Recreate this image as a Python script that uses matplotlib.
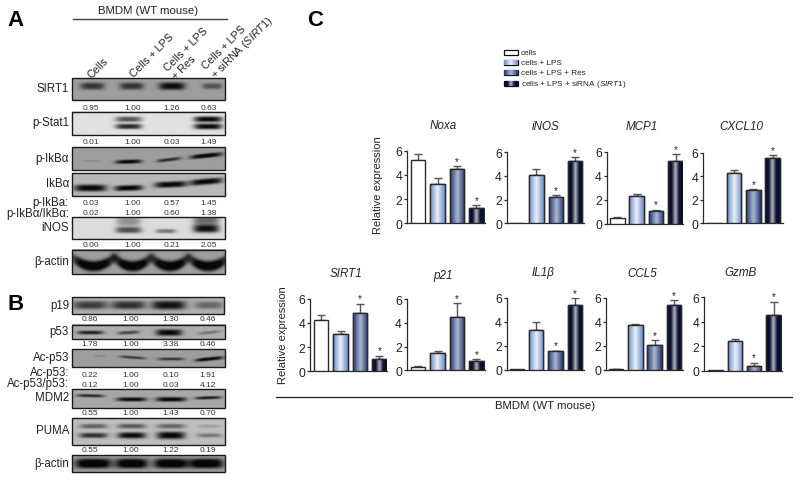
import numpy as np
import matplotlib
matplotlib.use("Agg")
import matplotlib.pyplot as plt
from matplotlib.patches import Rectangle
from matplotlib.colors import LinearSegmentedColormap

plt.rcParams['font.family'] = ['Liberation Sans', 'DejaVu Sans']
plt.rcParams['mathtext.fontset'] = 'custom'
plt.rcParams['mathtext.rm'] = 'Liberation Sans'
plt.rcParams['mathtext.it'] = 'Liberation Sans:italic'
plt.rcParams['mathtext.bf'] = 'Liberation Sans:bold'

# ---- data -------------------------------------------------------------
series_names = ['cells', 'cells + LPS', 'cells + LPS + Res',
                r'cells + LPS + siRNA ($\mathit{SIRT1}$)']
noxa = [5.2, 3.2, 4.5, 1.3];       noxa_err = [0.55, 0.5, 0.2, 0.2]
inos = [0.03, 4.05, 2.25, 5.3];    inos_err = [0.0, 0.5, 0.1, 0.3]
mcp1 = [0.5, 2.3, 1.05, 5.2];      mcp1_err = [0.07, 0.15, 0.15, 0.6]
cxcl10 = [0.05, 4.3, 2.8, 5.6];    cxcl10_err = [0.0, 0.25, 0.12, 0.2]
sirt1 = [4.2, 3.1, 4.85, 1.0];     sirt1_err = [0.45, 0.25, 0.75, 0.3]
p21 = [0.3, 1.5, 4.5, 0.75];       p21_err = [0.03, 0.12, 1.15, 0.2]
il1b = [0.03, 3.3, 1.55, 5.45];    il1b_err = [0.0, 0.65, 0.05, 0.55]
ccl5 = [0.07, 3.75, 2.1, 5.45];    ccl5_err = [0.02, 0.1, 0.35, 0.35]
gzmb = [0.03, 2.45, 0.35, 4.55];   gzmb_err = [0.0, 0.15, 0.3, 1.1]
star_bars = [2, 3]
yticks = [0, 2, 4, 6]

density_sirt1 = ['0.95', '1.00', '1.26', '0.63']
density_pstat1 = ['0.01', '1.00', '0.03', '1.49']
density_pikb = ['0.03', '1.00', '0.57', '1.45']
density_ratio_ikb = ['0.02', '1.00', '0.60', '1.38']
density_inos = ['0.00', '1.00', '0.21', '2.05']
density_p19 = ['0.86', '1.00', '1.30', '0.46']
density_p53 = ['1.78', '1.00', '3.38', '0.46']
density_acp53 = ['0.22', '1.00', '0.10', '1.91']
density_ratio_p53 = ['0.12', '1.00', '0.03', '4.12']
density_mdm2 = ['0.55', '1.00', '1.43', '0.70']
density_puma = ['0.55', '1.00', '1.22', '0.19']

# ---- layout -----------------------------------------------------------
W, H = 800, 481
fig = plt.figure(figsize=(W / 100, H / 100), dpi=100, facecolor='white')
over = fig.add_axes([0, 0, 1, 1])
over.set_xlim(0, W); over.set_ylim(H, 0); over.axis('off')

TXT = '#222222'
EDGE = '#2a2a2a'
cmaps = [None,
         LinearSegmentedColormap.from_list('a', ['#6d8cc4', '#e8f0fb', '#6d8cc4']),
         LinearSegmentedColormap.from_list('b', ['#26376a', '#a9b8d6', '#26376a']),
         LinearSegmentedColormap.from_list('c', ['#070b28', '#0d1233', '#b4b6bf', '#0d1233', '#070b28'])]
grad = np.linspace(0, 1, 64).reshape(1, -1)


def fill_bar(ax, x0, x1, y0, y1, i):
    r = Rectangle((x0, y0), x1 - x0, y1 - y0, fc='white', ec=EDGE, lw=1.0, zorder=3)
    ax.add_patch(r)
    if cmaps[i] is not None:
        im = ax.imshow(grad, extent=(x0, x1, y0, y1), aspect='auto', cmap=cmaps[i], zorder=3.1)
        im.set_clip_path(r)
        ax.add_patch(Rectangle((x0, y0), x1 - x0, y1 - y0, fc='none', ec=EDGE, lw=1.0, zorder=3.2))


PITCH, BW = 19.4, 14.5


def panel(title, vals, errs, L, y6, y0, first, right, tx, ty):
    ax = fig.add_axes([L / W, 1 - y0 / H, (right - L) / W, (y0 - y6) / H])
    ax.patch.set_alpha(0)
    for i, (v, e) in enumerate(zip(vals, errs)):
        fill_bar(ax, i - BW / PITCH / 2, i + BW / PITCH / 2, 0, v, i)
        if e > 0:
            ax.errorbar(i, v, yerr=[[0], [e]], color='#555555', lw=1, capsize=2.6,
                        capthick=1, zorder=2)
        if i in star_bars:
            ax.text(i, v + e + 0.2, '*', ha='center', va='baseline', fontsize=7,
                    color=TXT, zorder=5, clip_on=False)
    ax.set_xlim(-first / PITCH, (right - L - first) / PITCH)
    ax.set_ylim(0, 6)
    for s in ('top', 'right'):
        ax.spines[s].set_visible(False)
    for s in ('left', 'bottom'):
        ax.spines[s].set_linewidth(0.9); ax.spines[s].set_color(EDGE)
    ax.set_xticks([]); ax.set_yticks(yticks)
    ax.tick_params(axis='y', length=2.2, width=0.9, labelsize=8.8, pad=1.2, labelcolor=TXT, color=EDGE)
    over.text(tx, ty, title, ha='center', va='center', fontsize=8.4, style='italic', color=TXT)


panel('Noxa', noxa, noxa_err, 407.3, 151.5, 224.3, 10.9, 485, 443, 126)
panel('iNOS', inos, inos_err, 506.7, 153.3, 224.3, 10.3, 584, 546, 127)
panel('MCP1', mcp1, mcp1_err, 606.7, 152.7, 225, 10.6, 683, 641.7, 127)
panel('CXCL10', cxcl10, cxcl10_err, 703.3, 154, 224.3, 11.2, 783, 741, 127.5)
panel('SIRT1', sirt1, sirt1_err, 310, 299.7, 372.3, 11.2, 386.7, 346.4, 274)
panel('p21', p21, p21_err, 406.7, 300.3, 371.3, 11.5, 485, 442.8, 276.5)
panel('IL1β', il1b, il1b_err, 506.7, 299, 370.7, 10.1, 584, 542.8, 273)
panel('CCL5', ccl5, ccl5_err, 606, 299, 370.7, 9.9, 682.7, 641.9, 274)
panel('GzmB', gzmb, gzmb_err, 704, 298.3, 371.7, 11.4, 781.7, 740.9, 273)

over.text(378, 185, 'Relative expression', rotation=90, ha='center', va='center', fontsize=8.0, color=TXT)
over.text(282.5, 335.5, 'Relative expression', rotation=90, ha='center', va='center', fontsize=8.0, color=TXT)
over.plot([276, 792], [398.3, 398.3], color='#222222', lw=0.9)
over.text(545, 405.7, 'BMDM (WT mouse)', ha='center', va='center', fontsize=8.2, color=TXT)

# legend
for i, (name, yc) in enumerate(zip(series_names, [53.3, 63.3, 73.7, 84])):
    x0, x1, y0, y1 = 504, 517.7, yc - 2.5, yc + 2.5
    r = Rectangle((x0, y0), x1 - x0, y1 - y0, fc='white', ec='#111111', lw=0.9, zorder=3)
    over.add_patch(r)
    if cmaps[i] is not None:
        im = over.imshow(grad, extent=(x0, x1, y1, y0), aspect='auto', cmap=cmaps[i], zorder=3.1)
        im.set_clip_path(r)
    over.text(520.7, yc, name, ha='left', va='center', fontsize=5.9, color=TXT)


# ---- blots ------------------------------------------------------------
def blot(top, bot, bg, bands, left=71.7, right=225):
    ss = 3
    nx, ny = int((right - left) * ss), int((bot - top) * ss)
    xs = left + (np.arange(nx) + .5) / ss
    ys = (np.arange(ny) + .5) / ss
    X, Y = np.meshgrid(xs, ys)
    img = np.full(X.shape, float(bg))
    for band in bands:
        cx, ry, hw, sy, d, sl = band[:6]
        cur = band[6] if len(band) > 6 else 0
        u = (X - cx) / hw
        v = (Y - ry - sl * (X - cx) - cur * (X - cx) ** 2) / sy
        img -= d * np.exp(-u ** 4) * np.exp(-np.abs(v) ** 3)
    img = np.clip(img, 0.03, 1)
    over.imshow(img, extent=(left, right, bot, top), cmap='gray', vmin=0, vmax=1,
                aspect='auto', zorder=1, interpolation='bilinear')
    over.add_patch(Rectangle((left, top), right - left, bot - top, fc='none', ec='#1a1a1a', lw=1.0, zorder=2))


blot(79.3, 101, .62, [(92, 8, 12, 3.5, .42, 0), (131, 8, 12, 3.5, .42, 0), (171, 8, 13, 3.7, .58, 0), (211, 8, 10, 3, .3, 0)])
blot(112.7, 136.3, .88, [(128, 8, 13, 2.6, .55, 0), (128, 15, 13, 2.6, .72, 0), (207, 8, 14, 2.8, .85, 0), (207, 15, 14, 2.8, .85, 0)])
blot(148, 171, .62, [(91, 14, 9, 1, .08, 0), (128, 14.7, 13, 2, .6, -.03), (168, 12.7, 12, 1.7, .45, -.12), (205, 8.7, 16, 2.2, .62, -.1)])
blot(173.7, 196.7, .72, [(90, 15, 16, 3.4, .7, 0), (128, 15, 14, 2.8, .7, -.03), (170, 11.5, 16, 3, .7, -.04), (205, 8.6, 16, 3, .7, -.08)])
blot(218.3, 239.5, .86, [(128, 12.5, 13, 3, .55, 0), (128, 4, 12, 5, .3, 0), (165, 13.5, 10, 2, .4, 0), (205, 11, 13, 4, .8, 0), (205, 3, 13, 4, .45, 0)])
blot(250.7, 275, .62, [(93, 16.5, 21, 5, .7, 0, -.018), (132, 16.5, 18, 5, .7, 0, -.022), (169, 16.5, 18, 5, .7, 0, -.022), (207, 16.5, 19, 5, .7, 0, -.02)])
blot(298.3, 315, .68, [(90, 8, 17, 4, .45, 0), (128, 8, 17, 4, .5, 0), (168, 8, 17, 4.3, .62, 0), (208, 8, 14, 3.5, .28, 0)], right=224.3)
blot(325.7, 340, .68, [(90, 8, 13, 1.8, .55, 0), (128, 8, 11, 1.6, .4, -.05), (168, 8, 13, 3, .65, 0), (208, 8, 11, 1.5, .22, -.1)])
blot(350.3, 368.3, .62, [(100, 7, 6, 1, .1, 0), (132, 8.5, 13, 1.4, .4, .07), (170, 10, 13, 1.5, .42, 0), (208, 10, 14, 1.8, .6, -.1)])
blot(390.3, 408.7, .66, [(90, 6.5, 14, 1.5, .5, .02), (131, 10, 15, 2, .62, 0), (170, 10, 15, 2.2, .64, 0), (207, 8.5, 13, 1.5, .55, -.03)])
blot(419.3, 445.7, .74, [(93, 8, 14, 2.3, .35, 0), (131, 8, 14, 2.3, .4, 0), (170, 8, 14, 2.3, .35, 0), (208, 8, 11, 1.5, .12, 0),
                         (93, 17, 14, 2.5, .55, 0), (131, 17, 14, 3, .7, 0), (170, 17, 14, 3.6, .72, 0), (208, 17, 12, 2, .28, 0)])
blot(456.3, 473.3, .62, [(93, 8.5, 18, 4.8, .72, 0), (131, 8.5, 16, 4.8, .72, 0), (170, 8.5, 17, 4.8, .72, 0), (205, 8.5, 17, 4.8, .72, 0)])

names = [('SIRT1', 89), ('p-Stat1', 122.7), ('p-IkBα', 159), ('IkBα', 183.7),
         ('p-IkBa:', 203.5), ('p-IkBα/IkBα:', 214), ('iNOS', 227.7), ('β-actin', 261.7),
         ('p19', 305.7), ('p53', 331.7), ('Ac-p53', 358.3), ('Ac-p53:', 372.7),
         ('Ac-p53/p53:', 383.7), ('MDM2', 398.3), ('PUMA', 431), ('β-actin', 464)]
for s, y in names:
    over.text(69, y, s, ha='right', va='center', fontsize=8.3, color=TXT)

lanes = [90.7, 132.7, 172, 209]
lanes_b = [90, 131, 171, 208]
for vals, y, lx in [(density_sirt1, 108, lanes), (density_pstat1, 142.7, lanes), (density_pikb, 203.3, lanes),
                    (density_ratio_ikb, 214, lanes), (density_inos, 246, lanes), (density_p19, 320, lanes_b),
                    (density_p53, 344.7, lanes_b), (density_acp53, 376, lanes_b), (density_ratio_p53, 385.3, lanes_b),
                    (density_mdm2, 414, lanes_b), (density_puma, 450.7, lanes_b)]:
    for v, x in zip(vals, lx):
        over.text(x, y, v, ha='center', va='center', fontsize=6, color='#333333')

over.plot([72.7, 226.7], [20, 20], color='#444444', lw=1.0)
over.text(147.7, 11.3, 'BMDM (WT mouse)', ha='center', va='center', fontsize=8.2, color=TXT)

for s, x, y in [('Cells', 93, 80), ('Cells + LPS', 135, 79), ('Cells + LPS\n+ Res', 177, 81),
                ('Cells + LPS\n+ siRNA ($\\mathit{SIRT1}$)', 218, 82)]:
    over.text(x, y, s, rotation=45, rotation_mode='anchor', ha='left', va='bottom', fontsize=7.8,
              color=TXT, linespacing=1.05, multialignment='left')

for s, x, y in [('A', 15, 21), ('B', 15.5, 305), ('C', 315, 21)]:
    over.text(x, y, s, ha='center', va='center', fontsize=16, fontweight='bold', color='black')

over.set_xlim(0, W); over.set_ylim(H, 0)
fig.savefig('out.png', dpi=100)
